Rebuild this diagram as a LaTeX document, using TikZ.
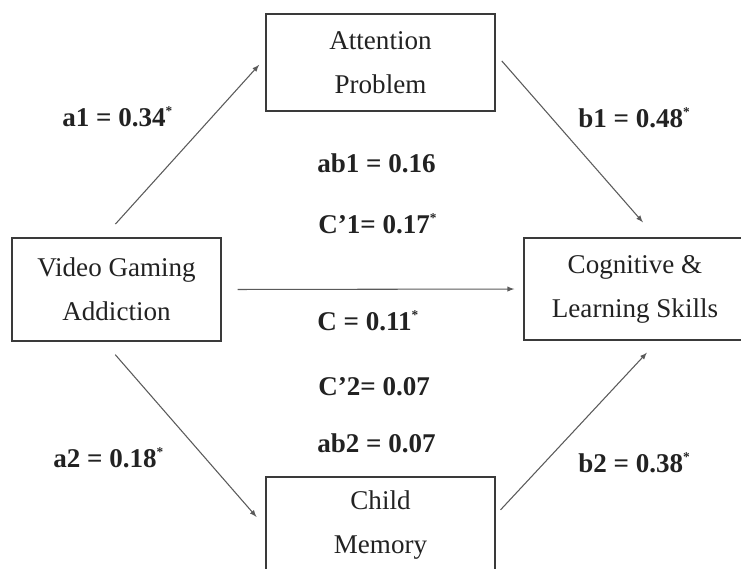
\documentclass[tikz,border=0pt]{standalone}
\usepackage{fontspec}
\setmainfont{Liberation Serif}
\usetikzlibrary{arrows,calc}

\definecolor{boxline}{RGB}{58,58,58}
\definecolor{pathline}{RGB}{90,90,90}
\definecolor{inkgray}{RGB}{34,34,34}

\newcommand{\sig}{\textsuperscript{\fontsize{10}{10}\selectfont *}}

\tikzset{
  box/.style={draw=boxline,line width=1.1pt,align=center,text=inkgray,
    font=\fontsize{20.3}{33}\selectfont,inner sep=0pt},
  coef/.style={anchor=base west,inner sep=0pt,text=inkgray,
    font=\fontsize{20.3}{24}\selectfont\bfseries},
  path/.style={draw=pathline,line width=0.8pt,-latex}
}

\begin{document}
\begin{tikzpicture}[x=0.75pt,y=0.75pt,yscale=-1,xscale=1]
\useasboundingbox (0,0) rectangle (741,568);

%Boxes
\node[box,minimum width=171.75pt,minimum height=72.75pt] (attn) at (380.5,62.5) {Attention\\Problem};
\node[box,minimum width=156.75pt,minimum height=77.25pt] (video) at (116.5,289.5) {Video Gaming\\Addiction};
\node[box,minimum width=166.5pt,minimum height=76.5pt] (cog) at (635,289) {Cognitive \&\\Learning Skills};
\node[box,minimum width=171.75pt,minimum height=72.75pt] (child) at (380.5,525.5) {Child\\Memory};

%Paths
\draw[path,shorten <=13.3pt,shorten >=6.9pt] ($(video.north)+(-13,0)$) -- ($(attn.west)+(0,-4.5)$);
\draw[path,shorten <=6.9pt,shorten >=14.9pt] ($(attn.east)+(0,-8.5)$) -- ($(cog.north)+(21,0)$);
\draw[path,shorten <=12pt,shorten >=6.75pt] (video.east) -- (cog.west);
\draw[path,shorten <=12.8pt,shorten >=10pt] ($(video.south)+(-12.5,0)$) -- ($(child.west)+(0,1.5)$);
\draw[path,shorten <=5.3pt,shorten >=12.2pt] ($(child.east)+(0,-10.5)$) -- ($(cog.south)+(23,0)$);

%Coefficients
\node[coef] (a1) at (62,126) {a1 = 0.34\sig};
\node[coef] (b1) at (578,127) {b1 = 0.48\sig};
\node[coef] (ab1) at (317,172) {ab1 = 0.16};
\node[coef] (c1) at (318,233) {C’1= 0.17\sig};
\node[coef] (c) at (317,330) {C = 0.11\sig};
\node[coef] (c2) at (318,395) {C’2= 0.07};
\node[coef] (ab2) at (317,452) {ab2 = 0.07};
\node[coef] (a2) at (53,467) {a2 = 0.18\sig};
\node[coef] (b2) at (578,472) {b2 = 0.38\sig};

\end{tikzpicture}
\end{document}
